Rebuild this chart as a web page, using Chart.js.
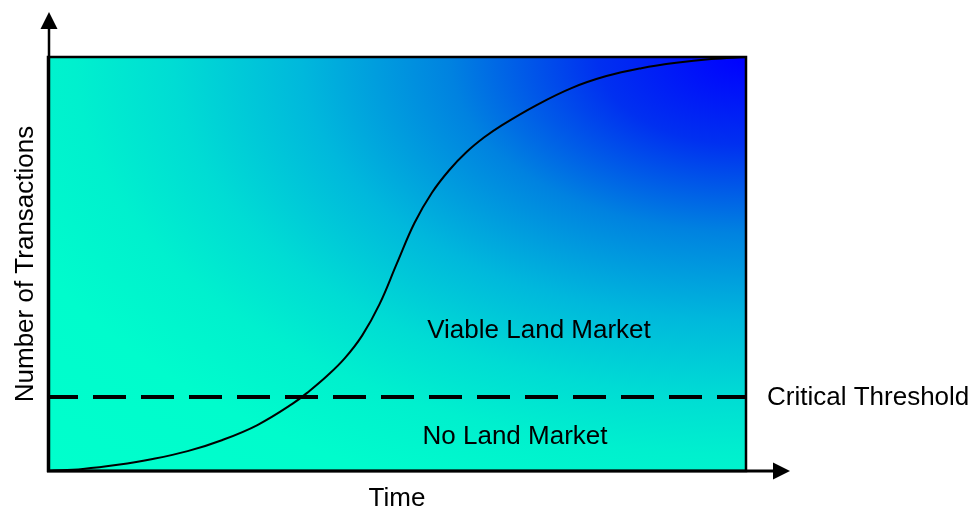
<!DOCTYPE html>
<html>
<head>
<meta charset="utf-8">
<script src="https://cdn.jsdelivr.net/npm/chart.js@4"></script>
<style>
html,body{margin:0;padding:0;background:#fff;}
#wrap{width:972px;height:511px;}
</style>
</head>
<body>
<div id="wrap"><canvas id="c" width="972" height="511"></canvas></div>
<script>
// Data (time 0..100, transactions 0..100)
const timeValues = [0, 5, 10, 15, 20, 25, 30, 35, 37.5, 40, 42.5, 45, 47.5, 50, 52.5, 55, 57.5, 60, 62.5, 65, 70, 75, 80, 85, 90, 95, 100];
const transactionValues = [0, 0.5, 1.5, 2.9, 4.8, 7.5, 11.1, 16.2, 19.4, 23.0, 27.2, 32.7, 40.3, 50.2, 59.9, 67.2, 72.7, 77.1, 80.6, 83.5, 88.4, 92.5, 95.4, 97.3, 98.6, 99.5, 100];
const thresholdValue = 17.9;
const thresholdRange = [0, 100];
const axisLabels = { x: "Time", y: "Number of Transactions" };
const regionLabels = { upper: "Viable Land Market", lower: "No Land Market", threshold: "Critical Threshold" };

const FONT = '26px "Liberation Sans", Arial, sans-serif';

const curveData = timeValues.map((t, i) => ({ x: t, y: transactionValues[i] }));
const thresholdData = thresholdRange.map(t => ({ x: t, y: thresholdValue }));

const diagramPlugin = {
  id: 'diagram',
  beforeDatasetsDraw(chart) {
    const { ctx, chartArea: a } = chart;
    const w = a.right - a.left, h = a.bottom - a.top;
    ctx.save();
    ctx.beginPath();
    ctx.rect(a.left, a.top, w, h);
    ctx.clip();
    ctx.translate(a.right, a.top);
    ctx.scale(1, h / w);
    const R = w * Math.SQRT2;
    const g = ctx.createRadialGradient(0, 0, 0, 0, 0, R);
    g.addColorStop(0, '#0000ff');
    g.addColorStop(0.15, '#0030f0');
    g.addColorStop(0.3, '#0082e0');
    g.addColorStop(0.45, '#00b8dc');
    g.addColorStop(0.58, '#00dcd4');
    g.addColorStop(0.68, '#00f0ce');
    g.addColorStop(0.8, '#00fccc');
    g.addColorStop(1, '#00ffcc');
    ctx.fillStyle = g;
    ctx.fillRect(-w, 0, w, w);
    ctx.restore();

    ctx.save();
    ctx.strokeStyle = '#000';
    ctx.lineWidth = 2.5;
    ctx.strokeRect(a.left, a.top, w, h);
    ctx.restore();

    // region labels
    const ys = chart.scales.y;
    ctx.save();
    ctx.font = FONT;
    ctx.fillStyle = '#000';
    ctx.textAlign = 'center';
    ctx.textBaseline = 'alphabetic';
    ctx.fillText(regionLabels.upper, 539, 338);
    ctx.fillText(regionLabels.lower, 515, 444);
    ctx.textAlign = 'left';
    ctx.fillText(regionLabels.threshold, a.right + 21, ys.getPixelForValue(thresholdValue) + 8);
    ctx.restore();
  },
  afterDraw(chart) {
    const { ctx, chartArea: a } = chart;
    ctx.save();
    ctx.strokeStyle = '#000';
    ctx.fillStyle = '#000';
    // y axis
    ctx.lineWidth = 2.5;
    ctx.beginPath();
    ctx.moveTo(a.left + 1, a.bottom);
    ctx.lineTo(a.left + 1, 28);
    ctx.stroke();
    ctx.beginPath();
    ctx.moveTo(a.left + 1, 12);
    ctx.lineTo(a.left - 7.5, 29);
    ctx.lineTo(a.left + 9.5, 29);
    ctx.closePath();
    ctx.fill();
    // x axis
    ctx.lineWidth = 3;
    ctx.beginPath();
    ctx.moveTo(a.left - 1, a.bottom);
    ctx.lineTo(774, a.bottom);
    ctx.stroke();
    ctx.beginPath();
    ctx.moveTo(790, a.bottom);
    ctx.lineTo(773, a.bottom - 8.5);
    ctx.lineTo(773, a.bottom + 8.5);
    ctx.closePath();
    ctx.fill();
    // axis titles
    ctx.font = FONT;
    ctx.textAlign = 'center';
    ctx.textBaseline = 'alphabetic';
    ctx.fillText(axisLabels.x, 397, 506);
    ctx.translate(33, 264);
    ctx.rotate(-Math.PI / 2);
    ctx.fillText(axisLabels.y, 0, 0);
    ctx.restore();
  }
};

new Chart(document.getElementById('c'), {
  type: 'scatter',
  data: {
    datasets: [
      {
        label: 'Transactions',
        data: curveData,
        showLine: true,
        borderColor: '#000',
        borderWidth: 2,
        pointRadius: 0,
        tension: 0.4,
        fill: false,
        clip: false
      },
      {
        label: 'Critical Threshold',
        data: thresholdData,
        showLine: true,
        borderColor: '#000',
        borderWidth: 4,
        borderDash: [33, 15],
        borderDashOffset: 3,
        pointRadius: 0,
        fill: false,
        clip: false
      }
    ]
  },
  options: {
    responsive: false,
    animation: false,
    devicePixelRatio: 1,
    layout: { padding: { left: 48, top: 57, right: 226, bottom: 40 } },
    plugins: { legend: { display: false }, tooltip: { enabled: false }, title: { display: false } },
    scales: {
      x: { type: 'linear', min: 0, max: 100, display: false },
      y: { type: 'linear', min: 0, max: 100, display: false }
    }
  },
  plugins: [diagramPlugin]
});
</script>
</body>
</html>
